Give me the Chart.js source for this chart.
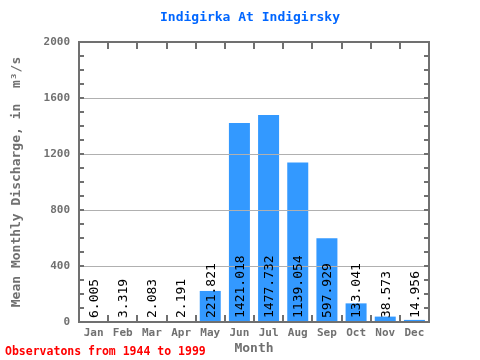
<!DOCTYPE html>
<html>
<head>
<meta charset="utf-8">
<script src="https://cdn.jsdelivr.net/npm/chart.js@4/dist/chart.umd.min.js"></script>
<style>
html,body{margin:0;padding:0;background:#fff;}
#wrap{width:480px;height:360px;position:relative;}
</style>
</head>
<body>
<div id="wrap"><canvas id="c" width="480" height="360"></canvas></div>
<script>
const months = ['Jan','Feb','Mar','Apr','May','Jun','Jul','Aug','Sep','Oct','Nov','Dec'];
const discharge = [6.005,3.319,2.083,2.191,221.821,1421.018,1477.732,1139.054,597.929,133.041,38.573,14.956];
const valueLabels = ['6.005','3.319','2.083','2.191','221.821','1421.018','1477.732','1139.054','597.929','133.041','38.573','14.956'];
const gridValues = [400,800,1200,1600];
const chartTitle = 'Indigirka At Indigirsky';
const yTitle = 'Mean Monthly Discharge, in  m\u00B3/s';
const xTitle = 'Month';
const footnote = 'Observatons from 1944 to 1999';

const MONO = '"DejaVu Sans Mono", "Liberation Mono", monospace';
const AXIS = '#707070';

const decor = {
  id: 'decor',
  afterDatasetsDraw(chart) {
    const ctx = chart.ctx;
    const a = chart.chartArea;
    const ys = chart.scales.y, xs = chart.scales.x;
    ctx.save();
    ctx.strokeStyle = '#b0b0b0';
    ctx.lineWidth = 1;
    gridValues.forEach(v => {
      const y = Math.round(ys.getPixelForValue(v)) + 0.5;
      ctx.beginPath(); ctx.moveTo(a.left, y); ctx.lineTo(a.right, y); ctx.stroke();
    });
    const meta = chart.getDatasetMeta(0);
    ctx.fillStyle = '#000';
    ctx.font = '13px ' + MONO;
    ctx.textAlign = 'left';
    ctx.textBaseline = 'middle';
    meta.data.forEach((bar, i) => {
      ctx.save();
      ctx.translate(bar.x + 1, a.bottom - 4);
      ctx.rotate(-Math.PI / 2);
      ctx.fillText(valueLabels[i], 0, 0);
      ctx.restore();
    });
    ctx.strokeStyle = AXIS;
    ctx.lineWidth = 2;
    ctx.strokeRect(a.left, a.top, a.right - a.left, a.bottom - a.top);
    for (let v = 0; v <= 2000; v += 100) {
      const y = Math.round(ys.getPixelForValue(v));
      ctx.beginPath();
      ctx.moveTo(a.left, y); ctx.lineTo(a.left + 5, y);
      ctx.moveTo(a.right, y); ctx.lineTo(a.right - 5, y);
      ctx.stroke();
    }
    for (let i = 1; i < months.length; i++) {
      const x = Math.round((xs.getPixelForValue(i - 1) + xs.getPixelForValue(i)) / 2);
      ctx.beginPath();
      ctx.moveTo(x, a.top); ctx.lineTo(x, a.top + 7);
      ctx.moveTo(x, a.bottom); ctx.lineTo(x, a.bottom - 7);
      ctx.stroke();
    }
    ctx.restore();
  },
  afterDraw(chart) {
    const ctx = chart.ctx;
    ctx.save();
    ctx.fillStyle = '#0066ff';
    ctx.font = 'bold 13px ' + MONO;
    ctx.textAlign = 'center';
    ctx.textBaseline = 'middle';
    ctx.fillText(chartTitle, 250, 18);
    ctx.fillStyle = '#ff0000';
    ctx.font = 'bold 11.5px ' + MONO;
    ctx.textAlign = 'left';
    ctx.fillText(footnote, 5, 352);
    ctx.restore();
  }
};

new Chart(document.getElementById('c'), {
  type: 'bar',
  data: {
    labels: months,
    datasets: [{
      data: discharge,
      backgroundColor: '#3399ff',
      borderWidth: 0,
      barPercentage: 0.72,
      categoryPercentage: 1.0
    }]
  },
  options: {
    responsive: false,
    animation: false,
    events: [],
    layout: { padding: { top: 42, right: 51, left: 0, bottom: 0 } },
    plugins: { legend: { display: false }, title: { display: false }, tooltip: { enabled: false } },
    scales: {
      x: {
        afterFit(s) { s.height = 38; },
        grid: { display: false, drawTicks: false },
        border: { display: false },
        ticks: { color: AXIS, font: { family: MONO, size: 11, weight: 'bold' }, padding: 5, maxRotation: 0 },
        title: { display: true, text: xTitle, color: AXIS, font: { family: MONO, size: 13, weight: 'bold' }, padding: { top: 4, bottom: 4 } }
      },
      y: {
        min: 0, max: 2000,
        afterFit(s) { s.width = 79; },
        grid: { display: false, drawTicks: false },
        border: { display: false },
        ticks: { stepSize: 400, color: AXIS, font: { family: MONO, size: 11, weight: 'bold' }, padding: 9,
                 callback: (v) => String(v) },
        title: { display: true, text: yTitle, color: AXIS, font: { family: MONO, size: 13, weight: 'bold' }, padding: { top: 9, bottom: 0 } }
      }
    }
  },
  plugins: [decor]
});
</script>
</body>
</html>
